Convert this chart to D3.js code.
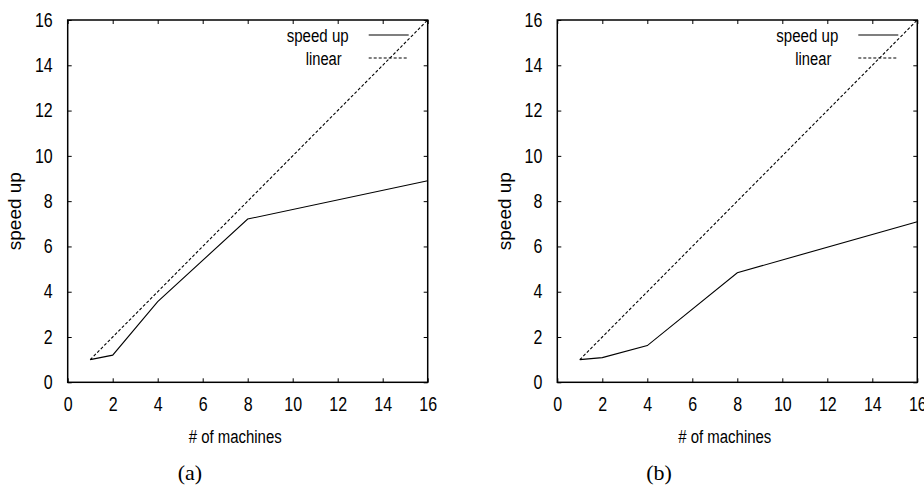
<!DOCTYPE html>
<html>
<head>
<meta charset="utf-8">
<script src="https://cdn.jsdelivr.net/npm/d3@7"></script>
<style>
  body { margin: 0; background: #fff; }
  text { font-family: "Liberation Sans", Arial, sans-serif; fill: #000; }
  .axis path { display: none; }
  .axis line { stroke: #000; stroke-width: 1; }
  .axis text { font-size: 19.5px; font-family: "Liberation Sans", Arial, sans-serif; }
</style>
</head>
<body>
<div id="chart"></div>
<script>
"use strict";

// x values (# of machines)
var machines = [1, 2, 4, 8, 16];
// panel (a) and (b) speed up
var speedupA = [1, 1.2, 3.56, 7.21, 8.9];
var speedupB = [1, 1.09, 1.62, 4.84, 7.09];
// ideal linear speed up
var linearX = [1, 16];
var linearY = [1, 16];

var xTicks = [0, 2, 4, 6, 8, 10, 12, 14, 16];
var yTicks = [0, 2, 4, 6, 8, 10, 12, 14, 16];
var legendNames = ["speed up", "linear"];

var squeeze = 0.82; // gnuplot text looks horizontally condensed

var svg = d3.select("#chart").append("svg")
    .attr("width", 924)
    .attr("height", 487);

function drawPanel(left, values, caption, captionX) {
    var top = 20, width = 360, height = 362.3;

    var x = d3.scaleLinear().domain([0, 16]).range([0, width]),
        y = d3.scaleLinear().domain([0, 16]).range([height, 0]);

    var g = svg.append("g")
        .attr("transform", "translate(" + left + "," + top + ")");

    // axes, ticks pointing inward (gnuplot style, mirrored)
    var xAxis = g.append("g").attr("class", "axis")
        .attr("transform", "translate(0," + height + ")")
        .call(d3.axisBottom(x).tickValues(xTicks).tickSizeInner(-4).tickSizeOuter(0).tickPadding(15));
    var yAxis = g.append("g").attr("class", "axis")
        .call(d3.axisLeft(y).tickValues(yTicks).tickSizeInner(-4).tickSizeOuter(0).tickPadding(15));
    g.append("g").attr("class", "axis")
        .call(d3.axisTop(x).tickValues(xTicks).tickSizeInner(-4).tickSizeOuter(0).tickFormat(""));
    g.append("g").attr("class", "axis")
        .attr("transform", "translate(" + width + ",0)")
        .call(d3.axisRight(y).tickValues(yTicks).tickSizeInner(-4).tickSizeOuter(0).tickFormat(""));

    xAxis.selectAll(".tick text").attr("transform", "scale(" + squeeze + ",1)");
    yAxis.selectAll(".tick text")
        .attr("x", -15 / squeeze)
        .attr("transform", "scale(" + squeeze + ",1)");

    // frame
    g.append("rect")
        .attr("width", width).attr("height", height)
        .attr("fill", "none").attr("stroke", "#000").attr("stroke-width", 1.5);

    var line = d3.line()
        .x(function (d) { return x(d[0]); })
        .y(function (d) { return y(d[1]); });

    g.append("path")
        .datum(d3.zip(machines, values))
        .attr("d", line)
        .attr("fill", "none").attr("stroke", "#000").attr("stroke-width", 1.1);

    g.append("path")
        .datum(d3.zip(linearX, linearY))
        .attr("d", line)
        .attr("fill", "none").attr("stroke", "#000").attr("stroke-width", 1.1)
        .attr("stroke-dasharray", "3,2");

    // legend
    var leg = g.selectAll(".leg").data(legendNames).enter().append("g")
        .attr("transform", function (d, i) { return "translate(0," + (15 + i * 23) + ")"; });
    leg.append("line")
        .attr("x1", width - 59).attr("x2", width - 19)
        .attr("stroke", "#000").attr("stroke-width", 1.1)
        .attr("stroke-dasharray", function (d, i) { return i ? "3,2" : null; });
    leg.append("text")
        .attr("x", function (d, i) { return i ? width - 86 : width - 79; })
        .attr("y", 7)
        .attr("text-anchor", "end")
        .attr("font-size", 18)
        .attr("textLength", function (d, i) { return i ? 36 : 62; })
        .attr("lengthAdjust", "spacingAndGlyphs")
        .text(function (d) { return d; });

    // axis titles
    g.append("text")
        .attr("x", 167.5).attr("y", height + 61)
        .attr("text-anchor", "middle")
        .attr("font-size", 18)
        .attr("textLength", 93)
        .attr("lengthAdjust", "spacingAndGlyphs")
        .text("# of machines");
    g.append("text")
        .attr("transform", "translate(-46.5," + (height / 2 + 10) + ") rotate(-90)")
        .attr("text-anchor", "middle")
        .attr("font-size", 19)
        .text("speed up");

    svg.append("text")
        .attr("x", captionX).attr("y", 480)
        .attr("text-anchor", "middle")
        .style("font-family", "'Liberation Serif', 'DejaVu Serif', serif")
        .attr("font-size", 22)
        .text(caption);
}

drawPanel(67.7, speedupA, "(a)", 190);
drawPanel(557.3, speedupB, "(b)", 659);
</script>
</body>
</html>
